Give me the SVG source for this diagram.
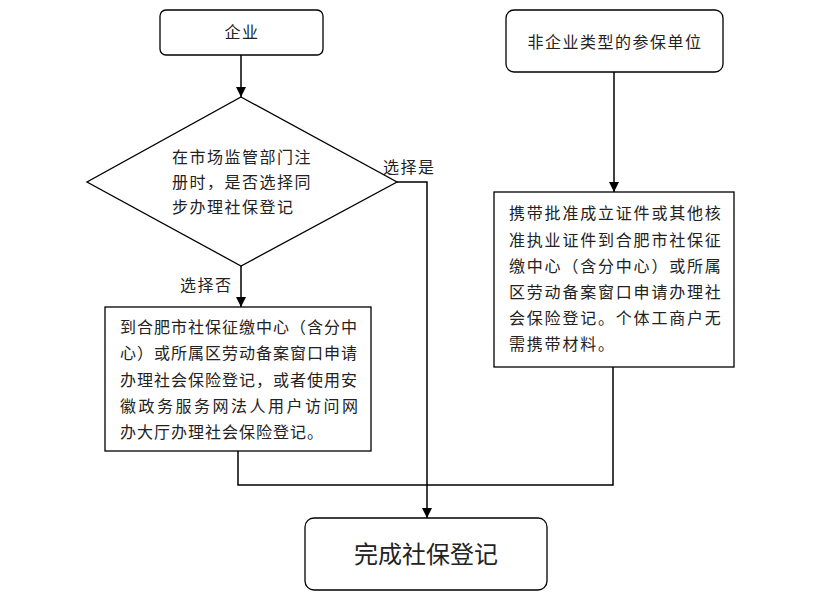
<svg xmlns="http://www.w3.org/2000/svg" width="820" height="610" viewBox="0 0 820 610">
<defs>
<marker id="arr" viewBox="0 0 10 10" refX="10" refY="5" markerWidth="10" markerHeight="10" markerUnits="userSpaceOnUse" orient="auto">
<path d="M0,0 L10,5 L0,10 z" fill="#000"/>
</marker>
<style>
.box{fill:#fff;stroke:#000;stroke-width:1.3}
.t{font-family:"Noto Sans CJK SC","Noto Sans CJK JP",sans-serif;font-size:16px;fill:#222;letter-spacing:1.5px}
.c{text-anchor:middle}
.ln{fill:none;stroke:#000;stroke-width:1.5}
</style>
</defs>
<rect width="820" height="610" fill="#fff"/>
<g id="connectors">
<line class="ln" x1="241" y1="55" x2="241" y2="97" marker-end="url(#arr)"/>
<line class="ln" x1="241" y1="266" x2="241" y2="307" marker-end="url(#arr)"/>
<polyline class="ln" points="397,182 427,182 427,518" marker-end="url(#arr)"/>
<polyline class="ln" points="238,451 238,485 613,485 613,367"/>
<line class="ln" x1="614" y1="72" x2="614" y2="192" marker-end="url(#arr)"/>
<text class="t" x="383" y="173">选择是</text>
<text class="t" x="180" y="291">选择否</text>
</g>
<g id="qiye">
<rect class="box" x="160" y="10" width="163" height="45" rx="6"/>
<text class="t c" x="242" y="38">企业</text>
</g>
<g id="decision">
<polygon class="box" points="241,97 397,182 241,266 87,182"/>
<text class="t" x="172" y="163">在市场监管部门注</text>
<text class="t" x="172" y="188">册时，是否选择同</text>
<text class="t" x="172" y="213">步办理社保登记</text>
</g>
<g id="left-box">
<rect class="box" x="105" y="307" width="266" height="144"/>
<text class="t" x="120" y="333" style="letter-spacing:1px">到合肥市社保征缴中心（含分中</text>
<text class="t" x="120" y="359" style="letter-spacing:1px">心）或所属区劳动备案窗口申请</text>
<text class="t" x="120" y="386" style="letter-spacing:1px">办理社会保险登记，或者使用安</text>
<text class="t" x="120" y="412" style="letter-spacing:0" textLength="238" lengthAdjust="spacing">徽政务服务网法人用户访问网</text>
<text class="t" x="120" y="438" style="letter-spacing:1px">办大厅办理社会保险登记。</text>
</g>
<g id="non-enterprise">
<rect class="box" x="506" y="10" width="217" height="62" rx="8"/>
<text class="t c" x="615" y="48">非企业类型的参保单位</text>
</g>
<g id="right-box">
<rect class="box" x="494" y="192" width="240" height="175"/>
<text class="t" x="509" y="219" style="letter-spacing:1.8px">携带批准成立证件或其他核</text>
<text class="t" x="509" y="246" style="letter-spacing:1.8px">准执业证件到合肥市社保征</text>
<text class="t" x="509" y="272" style="letter-spacing:1.8px">缴中心（含分中心）或所属</text>
<text class="t" x="509" y="298" style="letter-spacing:1.8px">区劳动备案窗口申请办理社</text>
<text class="t" x="509" y="324" style="letter-spacing:1.8px">会保险登记。个体工商户无</text>
<text class="t" x="509" y="350" style="letter-spacing:1.8px">需携带材料。</text>
</g>
<g id="done">
<rect class="box" x="305" y="518" width="242" height="72" rx="9"/>
<text class="t c" x="426" y="563" style="font-size:24px;letter-spacing:0">完成社保登记</text>
</g>
</svg>
